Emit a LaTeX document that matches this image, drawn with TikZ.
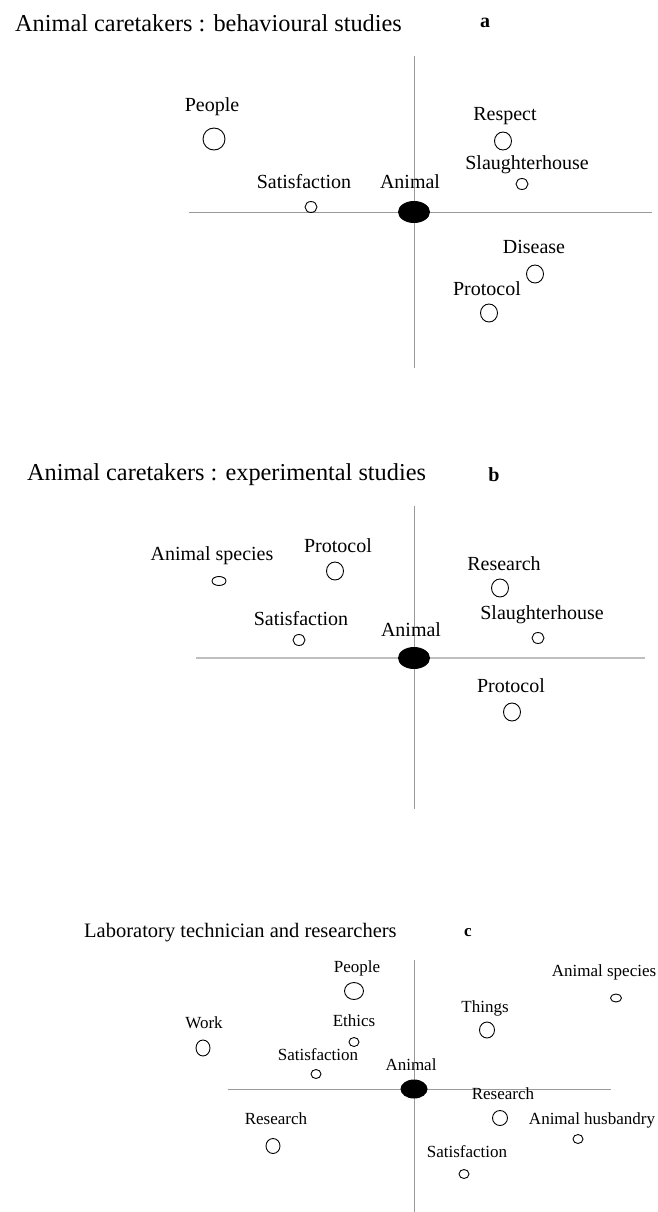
\documentclass[tikz,border=0pt]{standalone}
\usepackage{fontspec}
\setmainfont{Liberation Serif}
\usetikzlibrary{shapes.geometric}

\tikzset{
	axis/.style={draw=gray!80, line width=0.9pt},
	animal/.style={ellipse, fill=black, minimum width=32pt, minimum height=22pt, inner sep=0pt},
	bigdot/.style={ellipse, draw, line width=0.9pt, minimum width=17pt, minimum height=18pt, inner sep=0pt},
	largedot/.style={bigdot, minimum width=22pt, minimum height=22pt},
	smalldot/.style={ellipse, draw, line width=0.9pt, minimum width=12pt, minimum height=11pt, inner sep=0pt},
	word/.style={font=\fontsize{20}{22}\selectfont, inner sep=0pt, text height=13pt, text depth=4pt},
	smallword/.style={font=\fontsize{17}{19}\selectfont, inner sep=0pt, text height=11pt, text depth=3.5pt},
	heading/.style={font=\fontsize{24.3}{27}\selectfont, inner sep=0pt, anchor=west},
	tag/.style={font=\fontsize{20}{22}\selectfont\bfseries, inner sep=0pt}
}

\begin{document}
\begin{tikzpicture}[x=1pt, y=-1pt]
	\useasboundingbox (0,0) rectangle (657,1212);

	% (a) behavioural studies
	\node[heading] (headA) at (15,23) {Animal caretakers : behavioural studies};
	\node[tag] (tagA) at (485,23) {a};
	\coordinate (aW) at (189,212);
	\coordinate (aE) at (652,212);
	\coordinate (aN) at (414,56);
	\coordinate (aS) at (414,368);
	\draw[axis] (aW) -- (aE);
	\draw[axis] (aN) -- (aS);
	\node[animal] (aAnimal) at (414,212) {};
	\node[word] at (410,184) {Animal};
	\node[largedot] (aPeople) at (214,139) {};
	\node[word] at (212,107) {People};
	\node[smalldot] (aSatisf) at (311,207) {};
	\node[word] at (304,184) {Satisfaction};
	\node[bigdot] (aRespect) at (503,141) {};
	\node[word] at (505,116) {Respect};
	\node[smalldot] (aSlaughter) at (522,184) {};
	\node[word] at (527,165) {Slaughterhouse};
	\node[bigdot] (aDisease) at (535,274) {};
	\node[word] at (534,249) {Disease};
	\node[bigdot] (aProtocol) at (489,313) {};
	\node[word] at (487,291) {Protocol};

	% (b) experimental studies
	\node[heading] (headB) at (27,475) {Animal caretakers : experimental studies};
	\node[tag] (tagB) at (494,475) {b};
	\coordinate (bW) at (196,658);
	\coordinate (bE) at (645,658);
	\coordinate (bN) at (414,506);
	\coordinate (bS) at (414,809);
	\draw[axis, draw=gray!50, line width=1.4pt] (bW) -- (bE);
	\draw[axis] (bN) -- (bS);
	\node[animal] (bAnimal) at (414,658) {};
	\node[word] at (411,632) {Animal};
	\node[smalldot, minimum width=14pt, minimum height=9pt] (bSpecies) at (219,581) {};
	\node[word] at (212,556) {Animal species};
	\node[bigdot] (bProtocolL) at (335,571) {};
	\node[word] at (338,548) {Protocol};
	\node[bigdot] (bResearch) at (500,588) {};
	\node[word] at (504,566) {Research};
	\node[smalldot] (bSatisf) at (299,640) {};
	\node[word] at (301,621) {Satisfaction};
	\node[smalldot] (bSlaughter) at (538,638) {};
	\node[word] at (542,615) {Slaughterhouse};
	\node[bigdot] (bProtocolR) at (512,712) {};
	\node[word] at (511,688) {Protocol};

	% (c) laboratory staff
	\node[heading, font=\fontsize{20.5}{23}\selectfont] (headC) at (84,933) {Laboratory technician and researchers};
	\node[tag, font=\fontsize{17}{19}\selectfont\bfseries] (tagC) at (468,933) {c};
	\coordinate (cW) at (228,1089);
	\coordinate (cE) at (611,1089);
	\coordinate (cN) at (414,960);
	\coordinate (cS) at (414,1212);
	\draw[axis] (cW) -- (cE);
	\draw[axis] (cN) -- (cS);
	\node[animal, minimum width=27pt, minimum height=19pt] (cAnimal) at (414,1089) {};
	\node[smallword] at (411,1067) {Animal};
	\node[bigdot, minimum width=19pt, minimum height=17pt] (cPeople) at (354,991) {};
	\node[smallword] at (357,969) {People};
	\node[smalldot, minimum width=11pt, minimum height=8pt] (cSpecies) at (616,998) {};
	\node[smallword] at (604,973) {Animal species};
	\node[bigdot, minimum width=15pt, minimum height=16pt] (cThings) at (487,1030) {};
	\node[smallword] at (485,1009) {Things};
	\node[bigdot, minimum width=14pt, minimum height=16pt] (cWork) at (203,1048) {};
	\node[smallword] at (204,1025) {Work};
	\node[smalldot, minimum width=10pt, minimum height=9pt] (cEthics) at (354,1042) {};
	\node[smallword] at (354,1023) {Ethics};
	\node[smalldot, minimum width=10pt, minimum height=9pt] (cSatisfL) at (316,1074) {};
	\node[smallword] at (318,1057) {Satisfaction};
	\node[bigdot, minimum width=15pt, minimum height=15pt] (cResearchR) at (500,1118) {};
	\node[smallword] at (503,1096) {Research};
	\node[smalldot, minimum width=10pt, minimum height=9pt] (cHusbandry) at (578,1139) {};
	\node[smallword] at (592,1121) {Animal husbandry};
	\node[bigdot, minimum width=14pt, minimum height=15pt] (cResearchL) at (273,1146) {};
	\node[smallword] at (276,1121) {Research};
	\node[smalldot, minimum width=10pt, minimum height=9pt] (cSatisfB) at (464,1174) {};
	\node[smallword] at (467,1154) {Satisfaction};
\end{tikzpicture}
\end{document}
